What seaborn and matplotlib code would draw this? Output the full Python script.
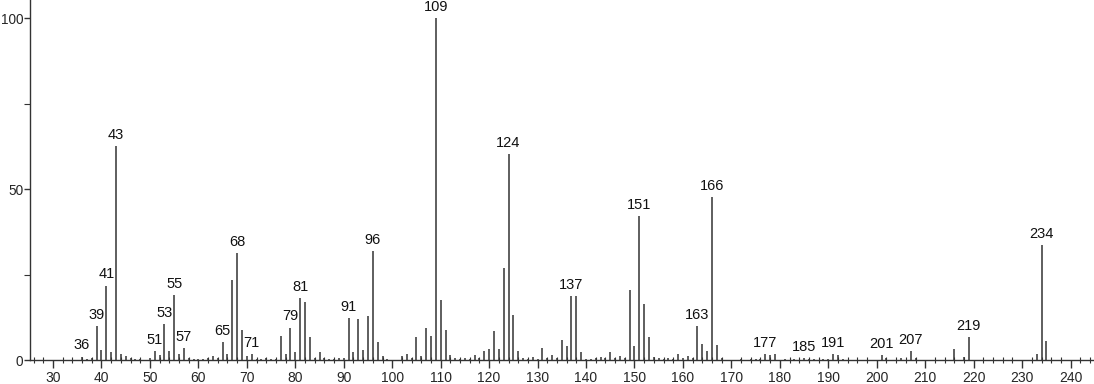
import matplotlib
matplotlib.use("Agg")
import matplotlib.pyplot as plt
from matplotlib.ticker import MultipleLocator
import seaborn as sns
import pandas as pd

# m/z values and relative intensities
mz = [36, 37, 38, 39, 40, 41, 42, 43, 44, 45, 46, 47, 48, 50, 51, 52, 53, 54, 55, 56,
      57, 58, 59, 60, 61, 62, 63, 64, 65, 66, 67, 68, 69, 70, 71, 72, 73, 74, 75, 76,
      77, 78, 79, 80, 81, 82, 83, 84, 85, 86, 87, 88, 89, 90, 91, 92, 93, 94, 95, 96,
      97, 98, 99, 102, 103, 104, 105, 106, 107, 108, 109, 110, 111, 112, 113, 114, 115,
      116, 117, 118, 119, 120, 121, 122, 123, 124, 125, 126, 127, 128, 129, 130, 131,
      132, 133, 134, 135, 136, 137, 138, 139, 140, 141, 142, 143, 144, 145, 146, 147,
      148, 149, 150, 151, 152, 153, 154, 155, 156, 157, 158, 159, 160, 161, 162, 163,
      164, 165, 166, 167, 168, 172, 174, 175, 176, 177, 178, 179, 181, 183, 185, 186,
      187, 189, 190, 191, 192, 193, 201, 202, 205, 207, 208, 216, 218, 219, 233, 234, 235]
intensity = [1.0, 0.4, 0.5, 9.9, 2.8, 21.8, 2.3, 62.7, 1.8, 1.3, 0.6, 0.3, 0.3, 0.5, 2.5,
             1.5, 10.4, 2.5, 19.1, 1.8, 3.6, 0.6, 0.4, 0.3, 0.3, 0.5, 1.3, 0.5, 5.3, 1.8,
             23.5, 31.4, 8.7, 1.3, 1.8, 0.3, 0.4, 0.5, 0.4, 0.3, 7.1, 1.8, 9.5, 2.3, 18.2,
             17.1, 6.8, 0.6, 2.3, 0.5, 0.3, 0.3, 0.5, 0.5, 12.2, 2.3, 12.0, 2.8, 13.0, 32.0,
             5.4, 1.2, 0.4, 1.3, 1.8, 0.5, 6.6, 1.3, 9.3, 7.0, 100.0, 17.5, 8.9, 1.5, 0.5,
             0.2, 0.7, 0.4, 1.5, 0.6, 2.5, 3.1, 8.6, 3.1, 26.8, 60.4, 13.3, 2.5, 0.6, 0.4,
             0.9, 0.4, 3.4, 0.6, 1.5, 0.6, 5.9, 4.0, 18.6, 18.6, 2.2, 0.4, 0.4, 0.5, 0.8,
             0.6, 2.2, 0.6, 1.3, 0.6, 20.5, 4.0, 42.2, 16.5, 6.8, 0.8, 0.5, 0.2, 0.5, 0.4,
             1.7, 0.5, 1.3, 0.5, 9.9, 4.7, 2.5, 47.8, 4.5, 0.5, 0.3, 0.3, 0.4, 0.3, 1.7,
             1.5, 1.7, 0.3, 0.3, 0.5, 0.3, 0.4, 0.4, 0.3, 1.7, 1.5, 0.4, 1.5, 0.5, 0.5,
             2.6, 0.5, 3.2, 0.9, 6.6, 1.8, 33.7, 5.5]
labeled = [36, 39, 41, 43, 51, 53, 55, 57, 65, 68, 71, 79, 81, 91, 96, 109, 124, 137,
           151, 163, 166, 177, 185, 191, 201, 207, 219, 234]

df = pd.DataFrame({"mz": mz, "intensity": intensity})

sns.set_style("ticks")
plt.rcParams["font.family"] = ["Liberation Sans", "DejaVu Sans"]

fig = plt.figure(figsize=(10.94, 3.84), dpi=100)
ax = fig.add_axes([0.0274, 0.0625, 0.9716, 0.9375])

ax.vlines(df["mz"], 0, df["intensity"], color="#333333", linewidth=1.1)

for m in labeled:
    h = df.loc[df["mz"] == m, "intensity"].iloc[0]
    ax.annotate(str(m), (m, h), xytext=(0, 3), textcoords="offset points",
                ha="center", va="bottom", fontsize=10.5, color="#111111")

ax.set_xlim(25.25, 244.6)
ax.set_ylim(0, 105.4)
ax.xaxis.set_major_locator(MultipleLocator(10))
ax.xaxis.set_minor_locator(MultipleLocator(2))
ax.yaxis.set_major_locator(MultipleLocator(50))
ax.yaxis.set_minor_locator(MultipleLocator(25))

ax.tick_params(axis="x", which="major", direction="out", length=6, width=1,
               color="#333333", labelsize=10, pad=2)
ax.tick_params(axis="x", which="minor", direction="inout", length=5, width=0.8,
               color="#333333")
ax.tick_params(axis="y", which="major", direction="out", length=4.5, width=1,
               color="#333333", labelsize=9.8, pad=0.3)
ax.tick_params(axis="y", which="minor", direction="out", length=4, width=0.8,
               color="#333333")

sns.despine(ax=ax)
for s in ["left", "bottom"]:
    ax.spines[s].set_color("#333333")
    ax.spines[s].set_linewidth(1)

fig.savefig("out.png", dpi=100)
